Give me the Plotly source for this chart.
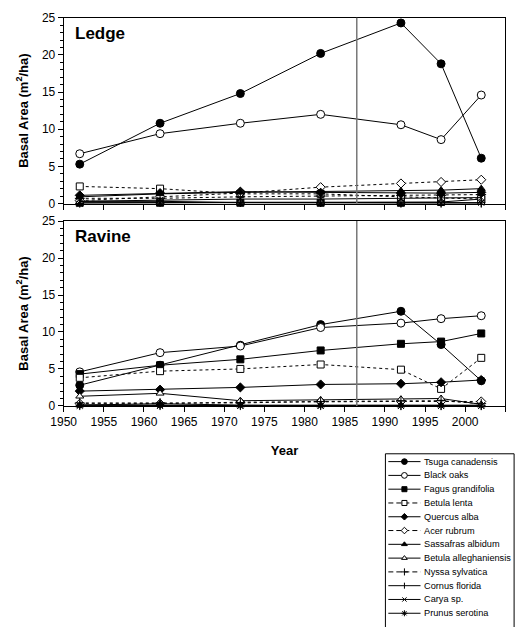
import plotly.graph_objects as go

# ---------------- data ----------------
years = [1952, 1962, 1972, 1982, 1992, 1997, 2002]
species = ["Tsuga canadensis", "Black oaks", "Fagus grandifolia", "Betula lenta",
           "Quercus alba", "Acer rubrum", "Sassafras albidum", "Betula alleghaniensis",
           "Nyssa sylvatica", "Cornus florida", "Carya sp.", "Prunus serotina"]

# Ledge
ledge_tsuga = [5.3, 10.8, 14.8, 20.2, 24.3, 18.8, 6.1]
ledge_black_oaks = [6.7, 9.4, 10.8, 12.0, 10.6, 8.6, 14.6]
ledge_fagus = [0.1, 0.1, 0.1, 0.1, 0.1, 0.2, 0.6]
ledge_betula_lenta = [2.3, 2.0, 1.3, 1.3, 0.9, 0.8, 0.6]
ledge_quercus = [1.1, 1.4, 1.6, 1.5, 1.4, 1.4, 1.5]
ledge_acer = [0.4, 0.9, 1.4, 2.2, 2.7, 2.9, 3.2]
ledge_sassafras = [0.9, 1.3, 1.5, 1.6, 1.7, 1.8, 2.0]
ledge_betula_all = [0.2, 0.2, 0.2, 0.2, 0.2, 0.1, 0.1]
ledge_nyssa = [0.7, 0.7, 0.9, 1.0, 1.1, 1.1, 1.2]
ledge_cornus = [0.3, 0.3, 0.1, 0.1, 0.0, 0.0, 0.0]
ledge_carya = [0.3, 0.5, 0.6, 0.6, 0.7, 0.7, 0.8]
ledge_prunus = [0.0, 0.1, 0.1, 0.1, 0.1, 0.1, 0.1]

# Ravine
ravine_tsuga = [2.8, 5.5, 8.2, 11.0, 12.8, 8.3, 3.4]
ravine_black_oaks = [4.6, 7.2, 8.1, 10.6, 11.2, 11.8, 12.2]
ravine_fagus = [4.3, 5.5, 6.3, 7.5, 8.4, 8.7, 9.8]
ravine_betula_lenta = [3.8, 4.7, 5.0, 5.6, 4.9, 2.3, 6.5]
ravine_quercus = [2.0, 2.2, 2.5, 2.9, 3.0, 3.2, 3.5]
ravine_acer = [0.3, 0.3, 0.5, 0.6, 0.6, 0.6, 0.6]
ravine_sassafras = [0.1, 0.3, 0.1, 0.1, 0.1, 0.1, 0.1]
ravine_betula_all = [1.3, 1.7, 0.7, 0.8, 0.9, 1.0, 0.2]
ravine_nyssa = [0.4, 0.4, 0.4, 0.6, 0.7, 0.7, 0.3]
ravine_cornus = [0.1, 0.1, 0.1, 0.1, 0.0, 0.0, 0.0]
ravine_carya = [0.1, 0.1, 0.0, 0.0, 0.0, 0.0, 0.0]
ravine_prunus = [0.0, 0.0, 0.0, 0.0, 0.0, 0.0, 0.0]

ledge = [ledge_tsuga, ledge_black_oaks, ledge_fagus, ledge_betula_lenta, ledge_quercus,
         ledge_acer, ledge_sassafras, ledge_betula_all, ledge_nyssa, ledge_cornus,
         ledge_carya, ledge_prunus]
ravine = [ravine_tsuga, ravine_black_oaks, ravine_fagus, ravine_betula_lenta, ravine_quercus,
          ravine_acer, ravine_sassafras, ravine_betula_all, ravine_nyssa, ravine_cornus,
          ravine_carya, ravine_prunus]

disturbance_year = 1986.5
x_ticks = list(range(1950, 2006, 5))
y_ticks = list(range(0, 26, 5))

# ---------------- styles ----------------
# (symbol, filled, dashed, size)
styles = [
    ("circle", True, False, 8),
    ("circle", False, False, 8),
    ("square", True, False, 7),
    ("square", False, True, 7),
    ("diamond", True, False, 7),
    ("diamond", False, True, 7),
    ("triangle-up", True, False, 7),
    ("triangle-up", False, False, 7),
    ("cross-thin-open", None, True, 7),
    ("line-ns-open", None, False, 6),
    ("x-thin-open", None, False, 6),
    ("asterisk-open", None, False, 7),
]

FONT = "Liberation Sans, Arial, sans-serif"
W, H = 518, 627


def py(p):
    return 1 - p / H


def marker_for(st, scale=1.0):
    sym, filled, dashed, size = st
    size = size * scale
    if filled is None:
        return dict(symbol=sym, size=size, color="black", line=dict(color="black", width=1))
    return dict(symbol=sym, size=size, color="black" if filled else "white",
                line=dict(color="black", width=1))


fig = go.Figure()

for panel, (xa, ya) in [(ledge, ("x", "y")), (ravine, ("x2", "y2"))]:
    for name, vals, st in zip(species, panel, styles):
        fig.add_trace(go.Scatter(
            x=years, y=vals, mode="lines+markers", name=name, showlegend=False,
            xaxis=xa, yaxis=ya, cliponaxis=False,
            line=dict(color="black", width=1, dash="3px,3px" if st[2] else "solid"),
            marker=marker_for(st)))

# custom legend drawn in its own axes
leg_y0, leg_dy = 8, 14.1
for i, (name, st) in enumerate(zip(species, styles)):
    yy = leg_y0 + leg_dy * i
    fig.add_trace(go.Scatter(
        x=[3, 36], y=[yy, yy], mode="lines", showlegend=False, xaxis="x3", yaxis="y3",
        line=dict(color="black", width=1, dash="5px,3px" if st[2] else "solid"),
        hoverinfo="skip"))
    fig.add_trace(go.Scatter(
        x=[19.5], y=[yy], mode="markers", showlegend=False, xaxis="x3", yaxis="y3",
        marker=marker_for(st, 0.72), hoverinfo="skip"))
    fig.add_annotation(x=38, y=yy, xref="x3", yref="y3", text=name, showarrow=False,
                       xanchor="left", yanchor="middle",
                       font=dict(family=FONT, size=9.2, color="black"))

fig.add_shape(type="rect", xref="x3 domain", yref="y3 domain", x0=0, x1=1, y0=-0.2, y1=1,
              line=dict(color="black", width=1), fillcolor="rgba(0,0,0,0)", layer="below")

for xr, yr in [("x", "y domain"), ("x2", "y2 domain")]:
    fig.add_shape(type="line", xref=xr, yref=yr, x0=disturbance_year, x1=disturbance_year,
                  y0=0, y1=1, line=dict(color="#777777", width=1.5))

for yr, label in [("y domain", "Ledge"), ("y2 domain", "Ravine")]:
    fig.add_annotation(x=0.022, y=0.915, xref=yr.replace("y", "x", 1), yref=yr, text=f"<b>{label}</b>",
                       showarrow=False, xanchor="left", yanchor="middle",
                       font=dict(family=FONT, size=17, color="black"))

xdom = [52 / W, 505 / W]
axis_common = dict(showline=True, linecolor="black", linewidth=1, mirror=True, showgrid=False,
                   zeroline=False, ticks="outside", ticklen=5, tickcolor="black",
                   tickfont=dict(family=FONT, size=12, color="black"))
xcommon = dict(axis_common, range=[1950, 2005], tickvals=x_ticks, domain=xdom)
ycommon = dict(axis_common, range=[0, 25], tickvals=y_ticks,
               minor=dict(dtick=1, ticks="outside", ticklen=3, tickcolor="black"),
               title=dict(text="<b>Basal Area (m<sup>2</sup>/ha)</b>", standoff=10,
                          font=dict(family=FONT, size=13, color="black")))

fig.update_layout(
    width=W, height=H, autosize=False,
    margin=dict(l=0, r=0, t=0, b=0),
    paper_bgcolor="white", plot_bgcolor="rgba(0,0,0,0)",
    font=dict(family=FONT, color="black"),
    xaxis=dict(xcommon, anchor="y", showticklabels=False),
    yaxis=dict(ycommon, anchor="x", domain=[py(201), py(11)]),
    xaxis2=dict(xcommon, anchor="y2",
                title=dict(text="<b>Year</b>", standoff=17,
                           font=dict(family=FONT, size=13, color="black"))),
    yaxis2=dict(ycommon, anchor="x2", domain=[py(408), py(219)]),
    xaxis3=dict(domain=[382 / W, 514 / W], anchor="y3", range=[0, 132], visible=False,
                fixedrange=True),
    yaxis3=dict(domain=[0, py(457)], anchor="x3", range=[170, 0], visible=False,
                fixedrange=True),
    showlegend=False,
)

fig.write_html("out.html")
